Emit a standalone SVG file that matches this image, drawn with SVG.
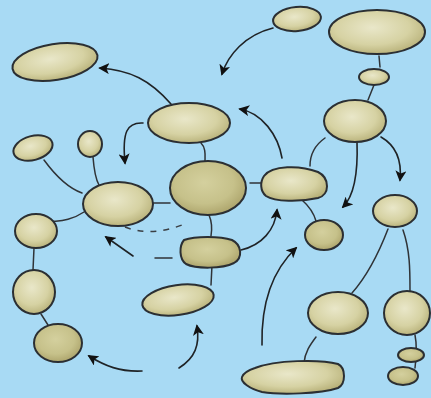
<svg xmlns="http://www.w3.org/2000/svg" width="431" height="398" viewBox="0 0 431 398">
<defs>
<radialGradient id="gl" cx="0.45" cy="0.4" r="0.65">
<stop offset="0" stop-color="#E9E7C9"/>
<stop offset="0.6" stop-color="#D6D2A3"/>
<stop offset="1" stop-color="#B4AD74"/>
</radialGradient>
<radialGradient id="gd" cx="0.45" cy="0.4" r="0.65">
<stop offset="0" stop-color="#D4D09E"/>
<stop offset="0.6" stop-color="#C6C18A"/>
<stop offset="1" stop-color="#A89F66"/>
</radialGradient>
<marker id="ah" viewBox="0 0 12 12" refX="10" refY="6" markerWidth="11" markerHeight="11" markerUnits="userSpaceOnUse" orient="auto">
<path d="M0,0 L12,6 L0,12 L3,6 Z" fill="#111"/>
</marker>
<style>
.n{fill:url(#gl);stroke:#2b2f33;stroke-width:2}
.d{fill:url(#gd);stroke:#2b2f33;stroke-width:2}
.c{fill:none;stroke:#2f3337;stroke-width:1.5;stroke-linecap:round}
.a{fill:none;stroke:#1f2326;stroke-width:1.6;stroke-linecap:round;marker-end:url(#ah)}
.ds{fill:none;stroke:#3a3f44;stroke-width:1.5;stroke-dasharray:6 7}
</style>
</defs>
<rect width="431" height="398" fill="#A8DAF4"/>
<g id="connectors">
<path class="a" d="M171,104 C150,80 130,70 100,68"/>
<path class="a" d="M143,123 C127,122 122,132 125,163"/>
<path class="a" d="M273,28 C245,35 228,55 222,74"/>
<path class="a" d="M282,158 C278,135 262,113 240,109"/>
<path class="a" d="M381,137 C395,145 402,160 400,180"/>
<path class="a" d="M357,142 C358,170 355,195 343,207"/>
<path class="c" d="M325,138 C315,145 310,155 310,166"/>
<path class="c" d="M172,258 L155,258"/>
<path class="a" d="M133,256 L106,237"/>
<path class="ds" d="M125,227 Q150,237 182,225"/>
<path class="a" d="M241,250 C262,245 275,230 277,210"/>
<path class="a" d="M262,345 C261,300 275,268 296,248"/>
<path class="a" d="M142,371 C120,372 105,366 89,356"/>
<path class="a" d="M179,368 C195,358 200,345 197,326"/>
<path class="c" d="M379,56 L380,67"/>
<path class="c" d="M374,85 L368,100"/>
<path class="c" d="M201,143 C206,148 205,155 205,161"/>
<path class="c" d="M44,160 C55,175 68,188 82,193"/>
<path class="c" d="M93,157 C94,170 95,178 99,185"/>
<path class="c" d="M84,212 C75,218 65,222 40,222"/>
<path class="c" d="M34,248 L33,270"/>
<path class="c" d="M41,314 L48,325"/>
<path class="c" d="M153,203 L170,203"/>
<path class="c" d="M209,215 C212,222 212,230 211,236"/>
<path class="c" d="M212,265 L211,285"/>
<path class="c" d="M250,183 L262,183"/>
<path class="c" d="M302,200 C310,207 314,214 316,221"/>
<path class="c" d="M388,229 C378,255 368,275 352,293"/>
<path class="c" d="M403,230 C410,250 410,270 410,291"/>
<path class="c" d="M316,337 C310,345 305,352 304,363"/>
<path class="c" d="M415,335 C417,345 416,360 415,368"/>
</g>
<g id="n1"><ellipse class="n" cx="55" cy="62" rx="43" ry="18" transform="rotate(-9 55 62)"/></g>
<g id="n2"><ellipse class="n" cx="297" cy="19" rx="24" ry="12" transform="rotate(-5 297 19)"/></g>
<g id="n3"><ellipse class="n" cx="377" cy="32" rx="48" ry="22"/></g>
<g id="n4"><ellipse class="n" cx="374" cy="77" rx="15" ry="8"/></g>
<g id="n5"><ellipse class="n" cx="355" cy="121" rx="31" ry="21"/></g>
<g id="n6"><ellipse class="n" cx="189" cy="123" rx="41" ry="20"/></g>
<g id="n7"><ellipse class="n" cx="33" cy="148" rx="20" ry="12" transform="rotate(-15 33 148)"/></g>
<g id="n8"><ellipse class="n" cx="90" cy="144" rx="12" ry="13"/></g>
<g id="n9"><ellipse class="d" cx="208" cy="188" rx="38" ry="27"/></g>
<g id="n10"><ellipse class="n" cx="118" cy="204" rx="35" ry="22"/></g>
<g id="n11"><path class="n" d="M264,176 C272,165 300,165 318,172 C330,178 330,195 318,198 C300,202 275,202 266,196 C260,191 260,182 264,176 Z"/></g>
<g id="n12"><ellipse class="d" cx="324" cy="235" rx="19" ry="15"/></g>
<g id="n13"><ellipse class="n" cx="395" cy="211" rx="22" ry="16"/></g>
<g id="n14"><path class="d" d="M184,240 C195,236 220,236 232,240 C242,245 243,258 234,263 C222,269 196,269 186,264 C179,259 179,246 184,240 Z"/></g>
<g id="n15"><ellipse class="n" cx="36" cy="231" rx="21" ry="17"/></g>
<g id="n16"><ellipse class="n" cx="34" cy="292" rx="21" ry="22"/></g>
<g id="n17"><ellipse class="d" cx="58" cy="343" rx="24" ry="19"/></g>
<g id="n18"><ellipse class="n" cx="178" cy="300" rx="36" ry="15" transform="rotate(-8 178 300)"/></g>
<g id="n19"><ellipse class="n" cx="338" cy="313" rx="30" ry="21"/></g>
<g id="n20"><ellipse class="n" cx="407" cy="313" rx="23" ry="22"/></g>
<g id="n21"><ellipse class="d" cx="411" cy="355" rx="13" ry="7"/></g>
<g id="n22"><ellipse class="d" cx="403" cy="376" rx="15" ry="9"/></g>
<g id="n23"><path class="n" d="M255,368 C275,360 320,359 338,364 C346,368 346,384 338,388 C320,394 280,395 262,392 C250,389 240,382 242,377 C244,372 249,370 255,368 Z"/></g>
</svg>
